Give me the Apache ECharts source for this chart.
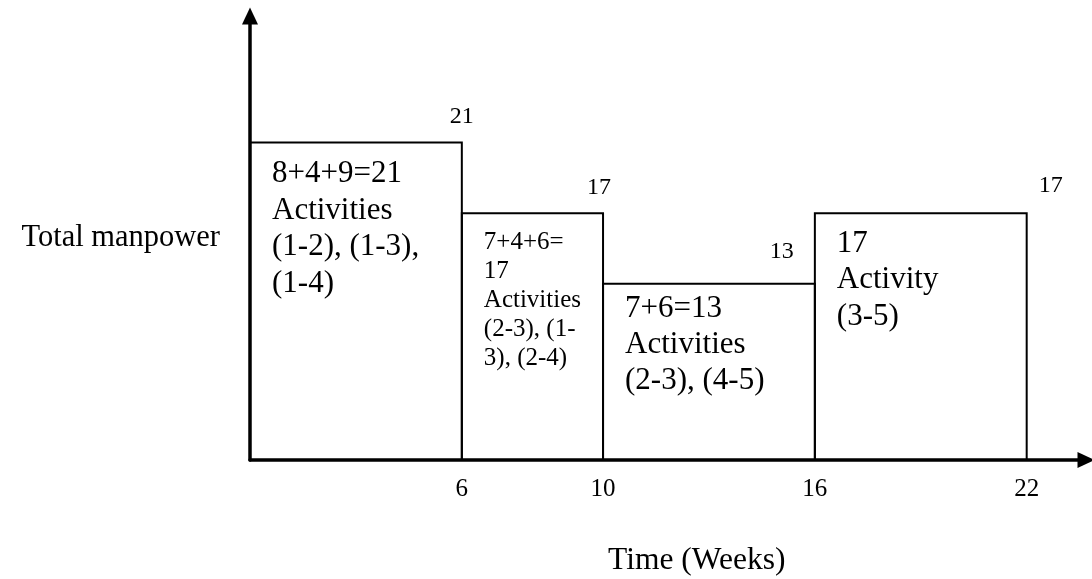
<!DOCTYPE html>
<html><head><meta charset="utf-8">
<script src="https://cdn.jsdelivr.net/npm/echarts@6/dist/echarts.min.js"></script>
<style>html,body{margin:0;padding:0;background:#fff}#c{width:1092px;height:579px}</style>
</head><body><div id="c"></div>
<script>
// ---- data ----
const periodStart = [0, 6, 10, 16];
const periodEnd = [6, 10, 16, 22];
const manpower = [21, 17, 13, 17];
const barTexts = [
  '8+4+9=21\nActivities\n(1-2), (1-3),\n(1-4)',
  '7+4+6=\n17\nActivities\n(2-3), (1-\n3), (2-4)',
  '7+6=13\nActivities\n(2-3), (4-5)',
  '17\nActivity\n(3-5)'
];
const tickLabels = [6, 10, 16, 22];
const xTitle = 'Time (Weeks)';
const yTitle = 'Total manpower';

// ---- styles ----
const Y_MIN = 3;
const FONT = "'Liberation Serif', 'Times New Roman', serif";
const textStyles = [
  {size: 31, lh: 36.7, dy: 13},
  {size: 25, lh: 29, dy: 15},
  {size: 31, lh: 36, dy: 7},
  {size: 31, lh: 36.5, dy: 12}
];
const valueLabelOffsets = [[0, -26], [-4, -25], [-33, -32], [24, -27]];

const chart = echarts.init(document.getElementById('c'), null, {renderer: 'canvas'});
const data = periodStart.map((s, i) => [s, periodEnd[i], manpower[i]]);

chart.setOption({
  animation: false,
  backgroundColor: '#fff',
  grid: {left: 250, right: 6, top: 16, bottom: 119, containLabel: false},
  xAxis: {
    type: 'value', min: 0, max: 23.68, interval: 2,
    axisLine: {show: true, onZero: false, lineStyle: {color: '#000', width: 3.5},
      symbol: ['none', 'triangle'], symbolSize: [16, 17]},
    axisTick: {show: false},
    splitLine: {show: false},
    axisLabel: {
      show: true, margin: 17, color: '#000', fontSize: 25, fontFamily: FONT,
      formatter: v => tickLabels.includes(v) ? String(v) : ''
    }
  },
  yAxis: {
    type: 'value', min: Y_MIN, max: 28.18,
    name: yTitle, nameLocation: 'middle', nameRotate: 0, nameGap: 30,
    nameTextStyle: {color: '#000', fontSize: 30.5, fontFamily: FONT},
    axisLine: {show: true, lineStyle: {color: '#000', width: 3.5},
      symbol: ['none', 'triangle'], symbolSize: [16, 17]},
    axisTick: {show: false},
    splitLine: {show: false},
    axisLabel: {show: false}
  },
  graphic: [{
    type: 'text', left: 608, top: 545,
    style: {text: xTitle, font: '31.5px ' + FONT, fill: '#000'}
  }],
  series: [{
    type: 'custom',
    clip: false,
    encode: {x: [0, 1], y: 2},
    data: data,
    renderItem: function (params, api) {
      const i = params.dataIndex;
      const tl = api.coord([api.value(0), api.value(2)]);
      const br = api.coord([api.value(1), Y_MIN]);
      const ts = textStyles[i];
      const off = valueLabelOffsets[i];
      return {
        type: 'group',
        children: [
          {type: 'rect', shape: {x: tl[0], y: tl[1], width: br[0] - tl[0], height: br[1] - tl[1]},
            style: {fill: 'transparent', stroke: '#000', lineWidth: 2}},
          {type: 'text', style: {text: barTexts[i], x: tl[0] + 22, y: tl[1] + ts.dy,
            font: ts.size + 'px ' + FONT, lineHeight: ts.lh, fill: '#000',
            textAlign: 'left', textVerticalAlign: 'top'}},
          {type: 'text', style: {text: String(api.value(2)), x: br[0] + off[0], y: tl[1] + off[1],
            font: '24px ' + FONT, fill: '#000', textAlign: 'center', textVerticalAlign: 'middle'}}
        ]
      };
    }
  }]
});
</script>
</body></html>
